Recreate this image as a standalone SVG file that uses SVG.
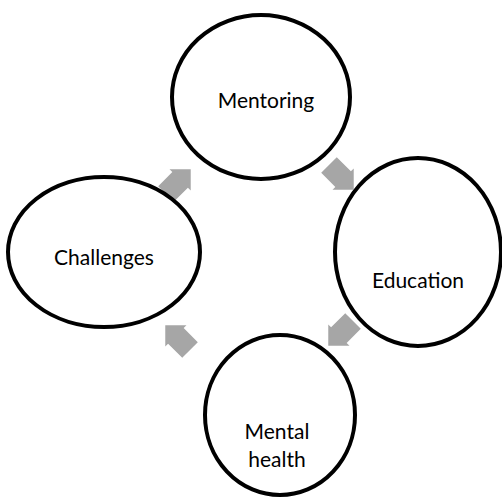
<svg xmlns="http://www.w3.org/2000/svg" width="502" height="498" viewBox="0 0 502 498">
  <style>
    .node { fill: #ffffff; stroke: #000000; stroke-width: 4; }
    .label { font-family: Lato, "Open Sans", "Liberation Sans", sans-serif; font-size: 21px; fill: #000000; text-anchor: middle; }
    .arrow { fill: #A6A6A6; }
  </style>
  <defs>
    <!-- block arrow pointing along +x, centred on the origin -->
    <polygon id="blockArrow" points="-17,-11 3,-11 3,-15 18,0 3,15 3,11 -17,11"/>
  </defs>
  <rect width="502" height="498" fill="#ffffff"/>

  <g id="connectors">
    <use href="#blockArrow" class="arrow" transform="translate(178,182) rotate(-45)"/>
    <use href="#blockArrow" class="arrow" transform="translate(341,177) rotate(45)"/>
    <use href="#blockArrow" class="arrow" transform="translate(341,333) rotate(135)"/>
    <use href="#blockArrow" class="arrow" transform="translate(178,338) rotate(-135)"/>
  </g>

  <g id="mentoring">
    <ellipse class="node" cx="261" cy="97" rx="89" ry="82"/>
    <text class="label" x="266" y="108">Mentoring</text>
  </g>

  <g id="education">
    <ellipse class="node" cx="418" cy="252" rx="83" ry="94"/>
    <text class="label" x="418" y="288">Education</text>
  </g>

  <g id="mental-health">
    <ellipse class="node" cx="280" cy="415" rx="75" ry="80"/>
    <text class="label" x="277" y="439">Mental</text>
    <text class="label" x="277" y="467">health</text>
  </g>

  <g id="challenges">
    <ellipse class="node" cx="104" cy="252" rx="96" ry="75"/>
    <text class="label" x="104" y="265">Challenges</text>
  </g>
</svg>
